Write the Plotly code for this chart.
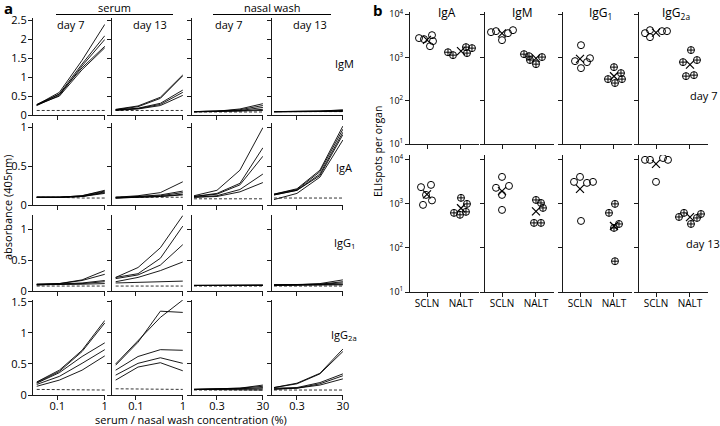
import numpy as np
import plotly.graph_objects as go

W, H = 720, 426
FONT = "Open Sans, sans-serif"

# ---------------- panel a data ----------------
serum_x = [0.037, 0.111, 0.333, 1.0]
nasal_x = [0.03, 0.3, 3.0, 30.0]
col_heads = ["day 7", "day 13", "day 7", "day 13"]

# one list of curves per column: serum d7, serum d13, nasal d7, nasal d13
igm_curves = [
    [[0.27, 0.60, 1.45, 2.40], [0.26, 0.56, 1.35, 2.10], [0.25, 0.52, 1.30, 2.00],
     [0.28, 0.55, 1.25, 1.82], [0.27, 0.50, 1.20, 1.78]],
    [[0.15, 0.24, 0.47, 1.06], [0.14, 0.22, 0.44, 1.04], [0.13, 0.18, 0.31, 0.66],
     [0.14, 0.17, 0.28, 0.60], [0.12, 0.16, 0.25, 0.52]],
    [[0.09, 0.10, 0.16, 0.30], [0.09, 0.10, 0.14, 0.25], [0.09, 0.10, 0.12, 0.20],
     [0.09, 0.09, 0.11, 0.15], [0.08, 0.09, 0.10, 0.12]],
    [[0.09, 0.09, 0.10, 0.14], [0.09, 0.09, 0.10, 0.12], [0.09, 0.09, 0.09, 0.11],
     [0.09, 0.09, 0.09, 0.10], [0.08, 0.09, 0.09, 0.10]],
]
igm_ctrl = [[0.12, 0.12, 0.12, 0.12], [0.12, 0.12, 0.12, 0.12],
            [0.08, 0.08, 0.08, 0.08], [0.09, 0.09, 0.09, 0.09]]

iga_curves = [
    [[0.10, 0.10, 0.12, 0.19], [0.10, 0.10, 0.12, 0.18], [0.10, 0.10, 0.11, 0.17],
     [0.10, 0.10, 0.11, 0.16], [0.10, 0.10, 0.11, 0.15]],
    [[0.10, 0.12, 0.16, 0.30], [0.09, 0.11, 0.13, 0.18], [0.10, 0.11, 0.12, 0.16],
     [0.09, 0.10, 0.11, 0.14], [0.09, 0.10, 0.11, 0.13]],
    [[0.12, 0.19, 0.45, 1.00], [0.11, 0.15, 0.28, 0.74], [0.11, 0.14, 0.26, 0.63],
     [0.10, 0.12, 0.20, 0.40], [0.10, 0.11, 0.17, 0.29]],
    [[0.14, 0.21, 0.45, 1.02], [0.14, 0.20, 0.43, 0.98], [0.13, 0.19, 0.40, 0.94],
     [0.13, 0.19, 0.38, 0.91], [0.07, 0.15, 0.36, 0.84]],
]
iga_ctrl = [[0.10, 0.10, 0.09, 0.09], [0.10, 0.10, 0.10, 0.10],
            [0.08, 0.08, 0.08, 0.08], [0.09, 0.09, 0.09, 0.09]]

igg1_curves = [
    [[0.11, 0.12, 0.18, 0.33], [0.11, 0.12, 0.17, 0.27], [0.10, 0.11, 0.13, 0.17],
     [0.10, 0.11, 0.12, 0.15], [0.10, 0.10, 0.11, 0.12]],
    [[0.22, 0.38, 0.70, 1.22], [0.22, 0.28, 0.53, 1.05], [0.20, 0.26, 0.42, 0.75],
     [0.15, 0.22, 0.33, 0.47], [0.13, 0.14, 0.15, 0.16]],
    [[0.09, 0.09, 0.09, 0.10], [0.09, 0.09, 0.09, 0.09], [0.09, 0.09, 0.09, 0.09],
     [0.09, 0.09, 0.09, 0.09], [0.09, 0.09, 0.09, 0.09]],
    [[0.10, 0.10, 0.12, 0.18], [0.10, 0.10, 0.11, 0.15], [0.10, 0.10, 0.11, 0.13],
     [0.09, 0.10, 0.10, 0.11], [0.09, 0.09, 0.10, 0.10]],
]
igg1_ctrl = [[0.08, 0.08, 0.08, 0.08], [0.08, 0.08, 0.08, 0.08],
             [0.08, 0.08, 0.08, 0.08], [0.08, 0.08, 0.08, 0.08]]

igg2a_curves = [
    [[0.21, 0.40, 0.72, 1.20], [0.20, 0.38, 0.70, 1.16], [0.19, 0.36, 0.62, 0.84],
     [0.17, 0.30, 0.51, 0.73], [0.14, 0.24, 0.40, 0.63]],
    [[0.50, 0.88, 1.25, 1.53], [0.48, 0.85, 1.35, 1.33], [0.40, 0.62, 0.73, 0.72],
     [0.32, 0.51, 0.60, 0.51], [0.24, 0.45, 0.52, 0.39]],
    [[0.09, 0.10, 0.11, 0.16], [0.09, 0.10, 0.11, 0.14], [0.09, 0.09, 0.10, 0.12],
     [0.09, 0.09, 0.10, 0.10], [0.09, 0.09, 0.09, 0.08]],
    [[0.12, 0.19, 0.35, 0.74], [0.12, 0.18, 0.34, 0.70], [0.11, 0.12, 0.20, 0.34],
     [0.10, 0.11, 0.18, 0.31], [0.09, 0.11, 0.16, 0.26]],
]
igg2a_ctrl = [[0.09, 0.09, 0.08, 0.08], [0.10, 0.10, 0.09, 0.09],
              [0.08, 0.08, 0.08, 0.08], [0.08, 0.08, 0.08, 0.08]]

a_rows = [igm_curves, iga_curves, igg1_curves, igg2a_curves]
a_ctrls = [igm_ctrl, iga_ctrl, igg1_ctrl, igg2a_ctrl]
a_row_names = ["IgM", "IgA", "IgG<sub>1</sub>", "IgG<sub>2a</sub>"]
a_yticks = [[0, 0.5, 1, 1.5, 2, 2.5], [0, 0.5, 1], [0, 0.5, 1], [0, 0.5, 1, 1.5]]
a_ymax = [2.57, 1.06, 1.23, 1.53]

# ---------------- panel b data ----------------
isotypes = ["IgA", "IgM", "IgG<sub>1</sub>", "IgG<sub>2a</sub>"]
organs = ["SCLN", "NALT"]

d7_scln = [[2800, 2650, 3270, 2380, 1820], [3840, 4050, 2510, 3640, 4270],
           [1920, 822, 566, 780, 960], [3640, 4270, 2940, 4050, 4050]]
d7_scln_dx = [[-8, -3, 5, 6, 3], [-11, -6, 0, 6, 11], [1, -5, 1, 7, 10], [-11, -6, -6, 6, 11]]
d7_nalt = [[1320, 1130, 1730, 1260, 1640], [1190, 1070, 870, 700, 1020],
           [597, 435, 316, 256, 316], [1480, 780, 870, 370, 390]]
d7_nalt_dx = [[-13, -8, 5, 6, 11], [-12, -7, -6, 0, 6], [0, 7, -6, 1, 8], [1, -7, 7, -4, 4]]

d13_scln = [[2400, 2700, 1600, 1200, 950], [4100, 2320, 2560, 1600, 730],
            [3160, 4100, 3000, 3160, 410], [10000, 10000, 11000, 10000, 3160]]
d13_scln_dx = [[-6, 4, -1, 5, -4], [0, -6, 7, 0, 0], [-6, 0, 7, 13, 1], [-11, -6, 7, 12, 0]]
d13_nalt = [[1370, 1000, 625, 565, 660], [1230, 1050, 810, 370, 370],
            [1000, 625, 350, 285, 50], [505, 625, 350, 480, 590]]
d13_nalt_dx = [[0, 6, -7, -1, 5], [0, 5, 7, -2, 5], [1, -5, 5, 0, 1], [-11, -6, 1, 7, 11]]

b_rows = [(d7_scln, d7_scln_dx, d7_nalt, d7_nalt_dx), (d13_scln, d13_scln_dx, d13_nalt, d13_nalt_dx)]
b_day = ["day 7", "day 13"]


def xdom(a, b):
    return [a / W, b / W]


def ydom(top, bot):
    return [1 - bot / H, 1 - top / H]


def ax(k):
    return "" if k == 1 else str(k)


fig = go.Figure()
layout = {}
AX = dict(showline=True, linecolor="#1a1a1a", linewidth=1, showgrid=False, zeroline=False,
          ticks="outside", ticklen=4, tickcolor="#1a1a1a", tickwidth=1, automargin=False)

# ---------- panel a ----------
a_cols = [(33, 105), (112, 183), (192, 263), (272, 343)]
a_rowpx = [(18, 115), (123, 205), (215, 291), (300, 395)]

for r in range(4):
    for c in range(4):
        k = r * 4 + c + 1
        xs = serum_x if c < 2 else nasal_x
        for ys in a_rows[r][c]:
            fig.add_trace(go.Scatter(x=xs, y=ys, mode="lines", line=dict(color="black", width=0.9),
                                     xaxis="x" + ax(k), yaxis="y" + ax(k), showlegend=False, hoverinfo="skip"))
        fig.add_trace(go.Scatter(x=xs, y=a_ctrls[r][c], mode="lines",
                                 line=dict(color="black", width=0.8, dash="3px,2px"),
                                 xaxis="x" + ax(k), yaxis="y" + ax(k), showlegend=False, hoverinfo="skip"))
        if c < 2:
            xr, tv, tt = [-1.51, 0.005], [0.1, 1], ["0.1", "1"]
        else:
            xr, tv, tt = [-1.61, 1.482], [0.3, 30], ["0.3", "30"]
        layout["xaxis" + ax(k)] = dict(AX, domain=xdom(*a_cols[c]), type="log", range=xr,
                                       tickvals=tv, ticktext=tt, showticklabels=(r == 3),
                                       ticklabelstandoff=-3,
                                       anchor="y" + ax(k), tickfont=dict(size=11))
        layout["yaxis" + ax(k)] = dict(AX, domain=ydom(*a_rowpx[r]), range=[0, a_ymax[r]],
                                       tickvals=a_yticks[r], ticktext=[f"{v:g}" for v in a_yticks[r]],
                                       showticklabels=(c == 0), anchor="x" + ax(k),
                                       ticklabelstandoff=-1, tickfont=dict(size=11))

# ---------- panel b ----------
b_cols = [410, 485, 563, 639]
b_rowpx = [(12, 144), (155, 292)]
b_ymax = [4.05, 4.11]
SP = 34.0  # px per category unit

for r in range(2):
    scln, scln_dx, nalt, nalt_dx = b_rows[r]
    for c in range(4):
        k = 16 + r * 4 + c + 1
        for pos, vals, dxs, sym in [(1, scln[c], scln_dx[c], "circle-open"),
                                    (2, nalt[c], nalt_dx[c], "circle-cross-open")]:
            xs = [pos + d / SP for d in dxs]
            fig.add_trace(go.Scatter(x=xs, y=vals, mode="markers",
                                     marker=dict(symbol=sym, size=7, color="black", line=dict(width=1, color="black")),
                                     xaxis="x" + ax(k), yaxis="y" + ax(k), showlegend=False, hoverinfo="skip"))
            gm = 10 ** np.mean(np.log10(vals))
            fig.add_trace(go.Scatter(x=[pos], y=[gm], mode="markers",
                                     marker=dict(symbol="x-thin-open", size=8, color="black",
                                                 line=dict(width=1.2, color="black")),
                                     xaxis="x" + ax(k), yaxis="y" + ax(k), showlegend=False, hoverinfo="skip"))
        layout["xaxis" + ax(k)] = dict(AX, domain=xdom(b_cols[c], b_cols[c] + 69), range=[0.5, 2.53],
                                       tickvals=[1, 2], ticktext=organs, showticklabels=(r == 1),
                                       ticklabelstandoff=-2,
                                       anchor="y" + ax(k), tickfont=dict(size=10))
        layout["yaxis" + ax(k)] = dict(AX, domain=ydom(*b_rowpx[r]), type="log", range=[1, b_ymax[r]],
                                       tickvals=[10, 100, 1000, 10000],
                                       ticktext=["10<sup>1</sup>", "10<sup>2</sup>", "10<sup>3</sup>", "10<sup>4</sup>"],
                                       showticklabels=(c == 0), anchor="x" + ax(k),
                                       tickfont=dict(size=9))

# ---------- text ----------
ann = []


def label(x, y, text, size=11, **kw):
    ann.append(dict(x=x / W, y=1 - y / H, xref="paper", yref="paper", text=text, showarrow=False,
                    xanchor="center", yanchor="middle",
                    font=dict(size=size, color="black", family=FONT), **kw))


label(8, 8, "<b>a</b>", size=15)
label(378, 10, "<b>b</b>", size=15)
label(114, 7, "serum")
label(272, 7, "nasal wash")
for c, (a, b) in enumerate(a_cols):
    label((a + b) / 2 + 2, 25, col_heads[c])
for r, y in enumerate([64, 167, 243, 335]):
    label(344, y, a_row_names[r])
label(8, 208, "absorbance (405nm)", textangle=-90)
label(191, 419, "serum / nasal wash concentration (%)")

for c, x in enumerate(b_cols):
    label(x + 37, 13, isotypes[c], size=12)
label(704, 95, b_day[0])
label(703, 243, b_day[1])
label(378, 152, "ELIspots per organ", size=10.5, textangle=-90)

shapes = [
    dict(type="line", xref="paper", yref="paper", x0=56 / W, x1=173 / W, y0=1 - 14.5 / H, y1=1 - 14.5 / H,
         line=dict(color="black", width=1)),
    dict(type="line", xref="paper", yref="paper", x0=213 / W, x1=331 / W, y0=1 - 14.5 / H, y1=1 - 14.5 / H,
         line=dict(color="black", width=1)),
]

fig.update_layout(**layout)
fig.update_layout(template="none", width=W, height=H, margin=dict(l=0, r=0, t=0, b=0, pad=0),
                  plot_bgcolor="white", paper_bgcolor="white",
                  font=dict(family=FONT, size=11, color="black"),
                  annotations=ann, shapes=shapes, showlegend=False)
fig.write_html("out.html", config={"displayModeBar": False},
               post_script="document.body.style.margin = '0px';")
